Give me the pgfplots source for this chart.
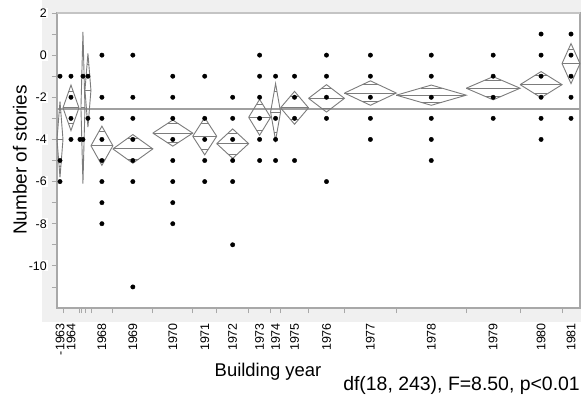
\documentclass[border=0pt]{standalone}
\usepackage{fontspec}
\setmainfont{Liberation Sans}
\usepackage{pgfplots}
\pgfplotsset{compat=1.18}
\definecolor{frameg}{HTML}{F0F0F0}
\definecolor{axg}{HTML}{A8A8A8}
\definecolor{topg}{HTML}{C4C4C4}
\definecolor{diag}{HTML}{7C7C7C}
\definecolor{gmg}{HTML}{A0A0A0}
% means diamond: left, right, mean, half-height of the 95% interval
\newcommand{\mdiamond}[4]{%
  \pgfmathsetmacro\dC{(#1+#2)/2}%
  \pgfmathsetmacro\dT{#3+#4}%
  \pgfmathsetmacro\dB{#3-#4}%
  \pgfmathsetmacro\oT{#3+0.7071*#4}%
  \pgfmathsetmacro\oB{#3-0.7071*#4}%
  \pgfmathsetmacro\oL{\dC-0.1464*(#2-#1)}%
  \pgfmathsetmacro\oR{\dC+0.1464*(#2-#1)}%
  \edef\tmp{%
    \noexpand\addplot[dia] coordinates {(#1,#3) (\dC,\dT) (#2,#3) (\dC,\dB) (#1,#3)};
    \noexpand\addplot[dia] coordinates {(#1,#3) (#2,#3)};
    \noexpand\addplot[dia] coordinates {(\oL,\oT) (\oR,\oT)};
    \noexpand\addplot[dia] coordinates {(\oL,\oB) (\oR,\oB)};
  }\tmp}
\begin{document}
\begin{tikzpicture}
\useasboundingbox (0,0) rectangle (581bp,400bp);
\fill[frameg] (42bp,78bp) rectangle (581bp,400bp);
\begin{axis}[
  at={(57bp,92bp)}, anchor=south west,
  width=523bp, height=295bp, scale only axis,
  xmin=0, xmax=262, ymin=-12, ymax=2,
  clip=false,
  axis background/.style={fill=white},
  axis line style={axg, line width=1.2bp},
  dia/.style={diag, line width=0.9bp, mark=none},
  tick align=outside,
  major tick length=0pt,
  minor tick length=5bp,
  tick style={axg, line width=0.8bp},
  xtick pos=bottom, ytick pos=left,
  ytick={2,0,-2,-4,-6,-8,-10},
  yticklabels={2,0,-2,-4,-6,-8,-10},
  minor ytick={-11,-10,...,2},
  xtick={1.5,7,22.5,38,58,74,88,101.5,109.5,119,135,157,187.5,218.5,242.5,257.5},
  xticklabels={-1963,1964,1968,1969,1970,1971,1972,1973,1974,1975,1976,1977,1978,1979,1980,1981},
  minor xtick={3,11,12,14,17,28,48,68,80,96,107,112,126,144,170,205,232,253},
  tick label style={font=\fontsize{12.5}{14}\selectfont},
  yticklabel style={fill=white, inner sep=1bp},
  yticklabel shift=9bp,
  xticklabel style={rotate=90, anchor=east, inner sep=1bp},
  xticklabel shift=14bp,
]
% grand mean
\addplot[gmg, line width=1.6bp] coordinates {(0,-2.57) (262,-2.57)};
% means diamonds
\mdiamond{0}{3}{-4}{1.8}
\mdiamond{3}{11}{-2.5}{1.08}
\mdiamond{12}{14}{-2.5}{3.6}
\mdiamond{14}{17}{-1.67}{1.75}
\mdiamond{17}{28}{-4.3}{0.93}
\mdiamond{28}{48}{-4.45}{0.68}
\mdiamond{48}{68}{-3.7}{0.62}
\mdiamond{68}{80}{-3.85}{0.88}
\mdiamond{80}{96}{-4.2}{0.7}
\mdiamond{96}{107}{-2.95}{0.85}
\mdiamond{107}{112}{-2.7}{1.35}
\mdiamond{112}{126}{-2.5}{0.78}
\mdiamond{126}{144}{-2.05}{0.65}
\mdiamond{144}{170}{-1.8}{0.58}
\mdiamond{170}{205}{-1.9}{0.48}
\mdiamond{205}{232}{-1.57}{0.55}
\mdiamond{232}{253}{-1.4}{0.62}
\mdiamond{253}{262}{-0.4}{0.95}
% observations
\addplot[only marks, mark=*, mark size=2.2bp, black] coordinates {
(1.5,-1) (1.5,-5) (1.5,-6)
(7,-1) (7,-2) (7,-3) (7,-4)
(11.5,-4)
(13,-1) (13,-4)
(15.5,-1) (15.5,-3)
(22.5,0) (22.5,-2) (22.5,-3) (22.5,-4) (22.5,-5) (22.5,-6) (22.5,-7) (22.5,-8)
(38,0) (38,-2) (38,-3) (38,-4) (38,-5) (38,-6) (38,-11)
(58,-1) (58,-2) (58,-3) (58,-4) (58,-5) (58,-6) (58,-7) (58,-8)
(74,-1) (74,-3) (74,-4) (74,-5) (74,-6)
(88,-2) (88,-3) (88,-4) (88,-5) (88,-6) (88,-9)
(101.5,0) (101.5,-1) (101.5,-2) (101.5,-3) (101.5,-4) (101.5,-5)
(109.5,-1) (109.5,-3) (109.5,-4) (109.5,-5)
(119,-1) (119,-2) (119,-3) (119,-5)
(135,0) (135,-1) (135,-2) (135,-3) (135,-6)
(157,0) (157,-1) (157,-2) (157,-3) (157,-4)
(187.5,0) (187.5,-1) (187.5,-2) (187.5,-3) (187.5,-4) (187.5,-5)
(218.5,0) (218.5,-1) (218.5,-2) (218.5,-3)
(242.5,1) (242.5,0) (242.5,-1) (242.5,-2) (242.5,-3) (242.5,-4)
(257.5,1) (257.5,0) (257.5,-1) (257.5,-2) (257.5,-3)
};
\draw[topg, line width=2bp] (rel axis cs:0,1) -- (rel axis cs:1,1);
\end{axis}
\node[rotate=90, anchor=base, inner sep=0pt, font=\fontsize{19}{22}\selectfont] at (26.5bp,240bp) {Number of stories};
\node[anchor=base, inner sep=0pt, font=\fontsize{18.5}{22}\selectfont] at (268bp,24bp) {Building year};
\node[anchor=base east, inner sep=0pt, font=\fontsize{19.5}{22}\selectfont] at (580bp,10bp) {df(18, 243), F=8.50, p<0.01};
\end{tikzpicture}
\end{document}
